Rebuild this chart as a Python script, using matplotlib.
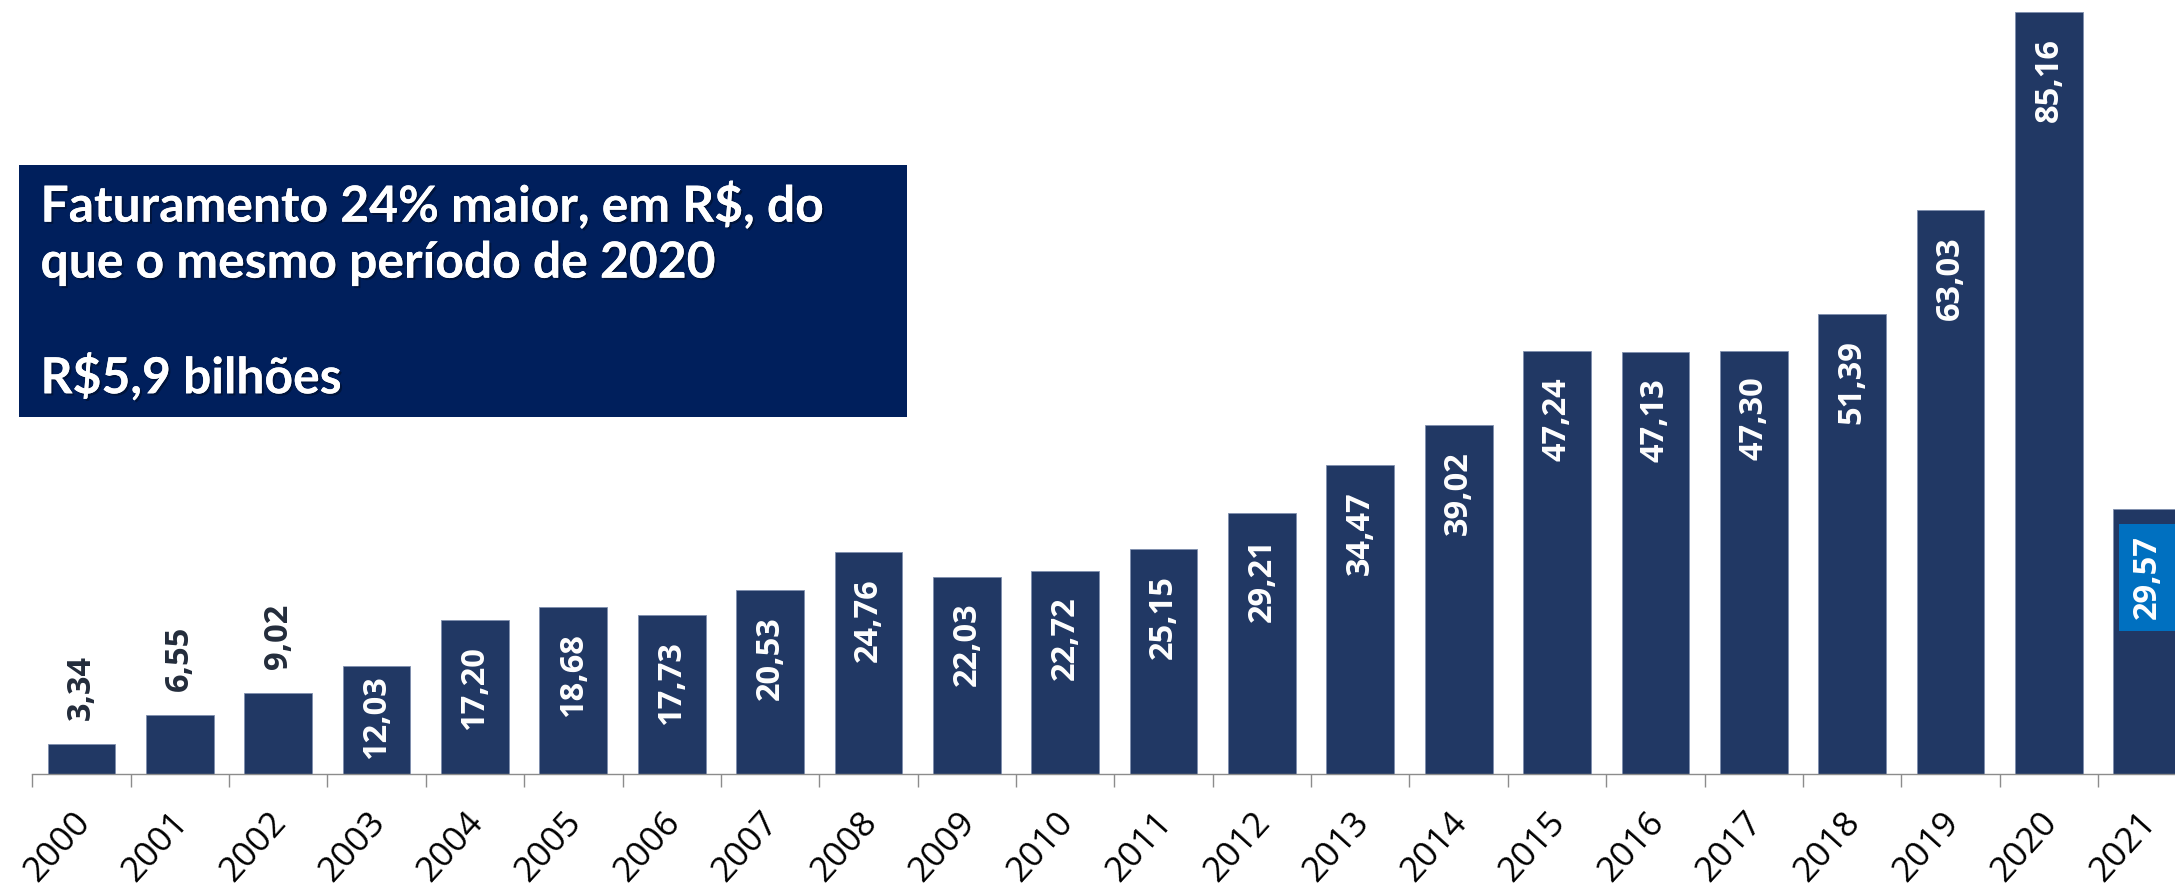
import matplotlib
matplotlib.use('Agg')
import matplotlib.pyplot as plt
from matplotlib import patheffects as pe
from matplotlib.patches import Rectangle

# ---- data ----
years = [str(y) for y in range(2000, 2022)]
values = [3.34, 6.55, 9.02, 12.03, 17.20, 18.68, 17.73, 20.53, 24.76, 22.03,
          22.72, 25.15, 29.21, 34.47, 39.02, 47.24, 47.13, 47.30, 51.39, 63.03,
          85.16, 29.57]
value_labels = [f"{v:.2f}".replace('.', ',') for v in values]
outside_years = ["2000", "2001", "2002"]
highlight_year = "2021"
box_lines = ["Faturamento 24% maior, em R$, do", "que o mesmo período de 2020", "R$5,9 bilhões"]

# ---- styling ----
W, H, DPI = 2175, 891, 100
PT = 72.0 / DPI  # px -> pt
BAR = '#213864'
BOX = '#001F5C'
HL = '#0070C0'
FONT = 'Open Sans'
BOXFONT = 'Lato'
PX_PER_UNIT = 8.95

fig = plt.figure(figsize=(W / DPI, H / DPI), dpi=DPI)
left_px, base_px, step_px = 32.3, 117.0, 98.37
ax = fig.add_axes([left_px / W, base_px / H, 1 - left_px / W, 1 - base_px / H])

xs = list(range(len(years)))
ax.bar(xs, values, width=0.688, color=BAR, edgecolor='#7f8fae', linewidth=0.6)
ax.set_xlim(-0.5, -0.5 + (W - left_px) / step_px)
ax.set_ylim(0, (H - base_px) / PX_PER_UNIT)

for s in ['top', 'right', 'left']:
    ax.spines[s].set_visible(False)
ax.spines['bottom'].set_color('#8c8c8c')
ax.spines['bottom'].set_linewidth(1.0)
ax.set_yticks([])
ax.set_xticks([i - 0.5 for i in xs])
ax.tick_params(axis='x', length=13 * PT, width=1.0, color='#8c8c8c',
               direction='out', labelbottom=False)

# year labels
for i, y in enumerate(years):
    ax.annotate(y, xy=(i, 0), xycoords=('data', 'axes fraction'),
                xytext=(2, -43 * PT), textcoords='offset points',
                rotation=48, rotation_mode='anchor', ha='right', va='center',
                fontsize=25.5, family=FONT, color='black', annotation_clip=False)

# value labels
LABEL_LEN_PX = 86
for i, (y, v, lab) in enumerate(zip(years, values, value_labels)):
    kw = dict(rotation=90, ha='center', fontsize=23.5, fontweight='bold',
              family=FONT, annotation_clip=False, textcoords='offset points')
    if y in outside_years:
        ax.annotate(lab, xy=(i, v), xytext=(0, 24 * PT), va='bottom',
                    color='#232c3b', **kw)
        continue
    extra = {}
    if y == highlight_year:
        extra['bbox'] = dict(boxstyle='square,pad=0.35', facecolor=HL, edgecolor='none')
    if v * PX_PER_UNIT - 27 - LABEL_LEN_PX < 16:
        # label does not fit below inside-end position: push it up from the base
        ax.annotate(lab, xy=(i, 0), xytext=(0, 15 * PT), va='bottom',
                    color='white', **kw, **extra)
    else:
        ax.annotate(lab, xy=(i, v), xytext=(0, -26 * PT), va='top',
                    color='white', **kw, **extra)

# text box
fig.add_artist(Rectangle((19 / W, 1 - 417 / H), (907 - 19) / W, (417 - 165) / H,
                         transform=fig.transFigure, facecolor=BOX, edgecolor='none'))
baselines = [221.7, 277.7, 393.3]
shadow = [pe.withSimplePatchShadow(offset=(1.5, -1.5), shadow_rgbFace='black', alpha=0.35),
          pe.Normal()]
texts = []
for line, b in zip(box_lines, baselines):
    t = fig.text(40.5 / W, 1 - b / H, line, ha='left', va='baseline', fontsize=28,
                 fontweight='bold', family=BOXFONT, color='white')
    t.set_path_effects(shadow)
    texts.append(t)
r = fig.canvas.get_renderer()
w0 = texts[0].get_window_extent(renderer=r).width
scale = 783.0 / w0
for t in texts:
    t.set_fontsize(28 * scale)

fig.savefig('out.png', dpi=DPI)
